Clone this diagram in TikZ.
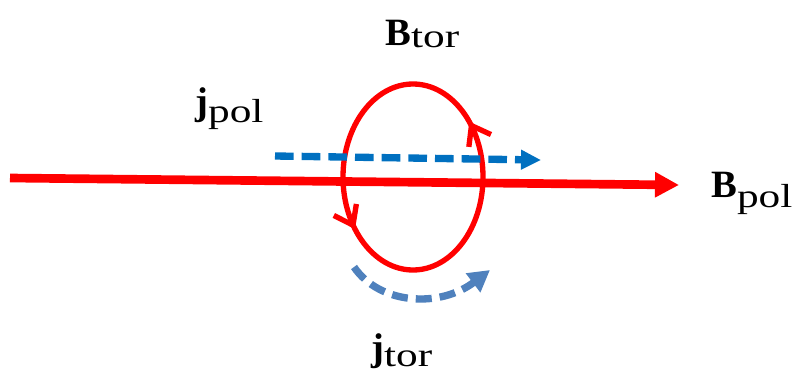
\documentclass[tikz,border=0pt]{standalone}
\usepackage{fontspec}
\setmainfont{Liberation Serif}
\newfontfamily\subfont[FakeStretch=1.3]{Liberation Serif}
\usetikzlibrary{arrows.meta,decorations.markings}

\definecolor{fieldred}{RGB}{255,0,0}
\definecolor{jpolblue}{RGB}{0,112,192}
\definecolor{jtorblue}{RGB}{79,129,189}

% bold symbol with a lowered upright subscript
\newcommand{\symsub}[3]{{\fontsize{29}{33}\selectfont\bfseries #1}\raisebox{-#3}{\subfont\fontsize{25}{29}\selectfont #2}}

\tikzset{
  fieldline/.style={draw=fieldred, line width=6.5pt},
  loopline/.style={draw=fieldred, line width=4pt},
  currentline/.style={line width=5.5pt, dash pattern=on 14pt off 6pt},
  lbl/.style={inner sep=0pt, anchor=base west},
  loopbarb/.tip={Straight Barb[length=13pt, width=19pt, line width=4pt]}
}

\begin{document}
\begin{tikzpicture}[x=0.75pt, y=-0.75pt]
\useasboundingbox (0,0) rectangle (803,375);

% poloidal field along the axis
\coordinate (bpolstart) at (10,178);
\coordinate (bpolend) at (679,185);
\draw[fieldline, -{Triangle[length=18pt, width=18pt]}] (bpolstart) -- (bpolend);

% toroidal field loop, running counterclockwise
\draw[loopline,
  postaction={decorate},
  decoration={markings,
    mark=at position 0.112 with {\arrow{loopbarb}},
    mark=at position 0.605 with {\arrow{loopbarb}}}]
  (483,177) arc[start angle=0, end angle=-360, x radius=70, y radius=93];

% poloidal current
\coordinate (jpolstart) at (275,156);
\coordinate (jpolend) at (541,160);
\draw[currentline, draw=jpolblue, -{Triangle[length=15pt, width=14pt]}] (jpolstart) -- (jpolend);

% toroidal current below the loop
\coordinate (jtorstart) at (354,267);
\coordinate (jtorend) at (490,270);
\draw[currentline, draw=jtorblue, dash pattern=on 12pt off 6pt,
  -{Triangle[length=16pt, width=17pt]}]
  (jtorstart) .. controls (380,305) and (440,308) .. (jtorend);

% labels
\node[lbl] (btor) at (385,45) {\symsub{B}{tor}{2pt}};
\node[lbl] (jpol) at (195,114) {\symsub{j}{pol}{6pt}};
\node[lbl] (bpol) at (711,197) {\symsub{B}{pol}{8pt}};
\node[lbl] (jtor) at (371,360) {\symsub{j}{tor}{5pt}};
\end{tikzpicture}
\end{document}
